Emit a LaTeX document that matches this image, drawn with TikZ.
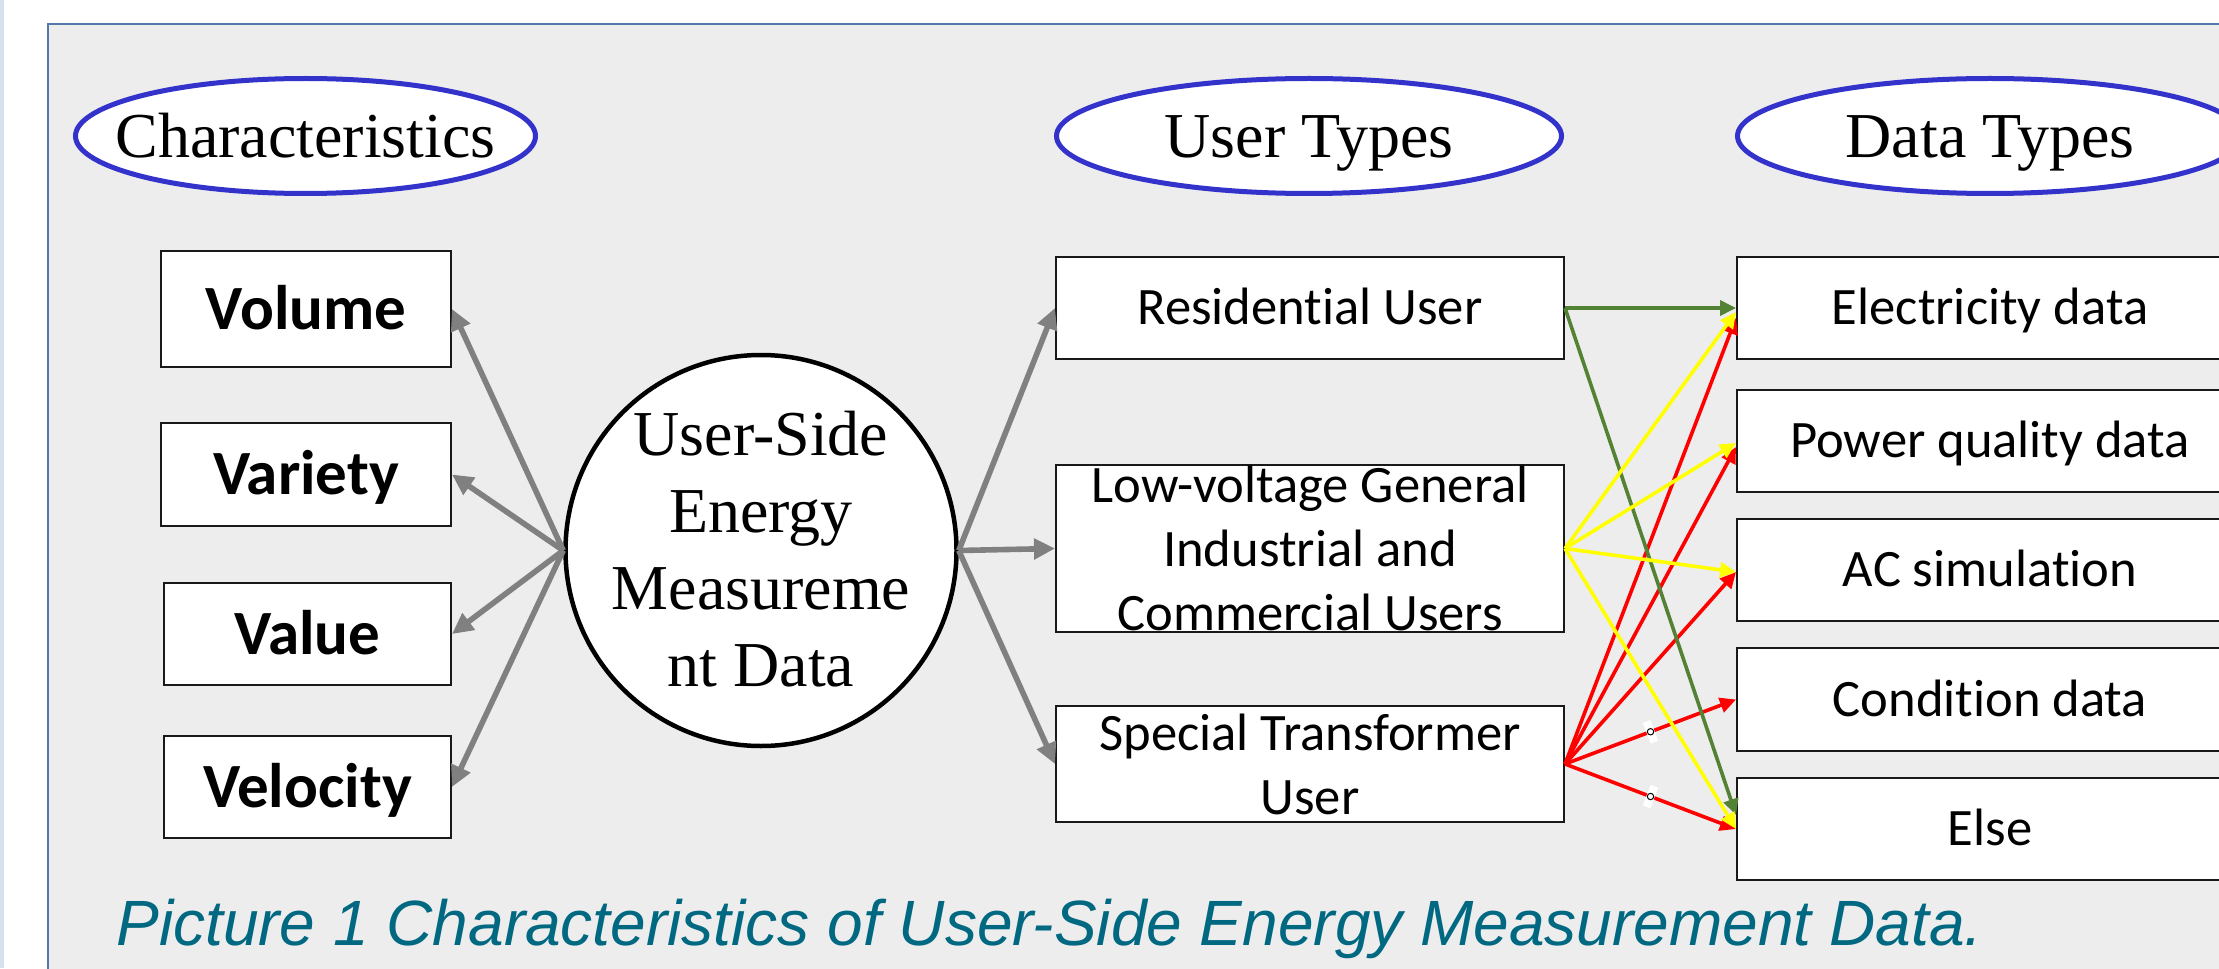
\documentclass[tikz,border=0pt]{standalone}
\usepackage{fontspec}
\setmainfont{Liberation Serif}
\newfontfamily\calibrifont[Ligatures=NoCommon, RawFeature={-calt;-clig}]{Carlito}
\newfontfamily\arialfont{Liberation Sans}
\usetikzlibrary{arrows.meta,shapes.geometric,calc}

\definecolor{panelbg}{RGB}{237,237,237}
\definecolor{panelrule}{RGB}{84,120,168}
\definecolor{edgestrip}{RGB}{214,225,237}
\definecolor{ovalblue}{RGB}{51,51,204}
\definecolor{flowgray}{RGB}{128,128,128}
\definecolor{resgreen}{RGB}{84,130,53}
\definecolor{lvyellow}{RGB}{255,255,0}
\definecolor{stred}{RGB}{255,0,0}
\definecolor{captionteal}{RGB}{0,104,128}

\begin{document}
\begin{tikzpicture}[x=0.5pt,y=-0.5pt,
  header/.style={ellipse, draw=ovalblue, line width=2.5pt, fill=white,
    inner sep=0pt, minimum height=57.5pt},
  headtext/.style={font=\fontsize{32}{38.5}\selectfont, inner sep=0pt,
    text height=21.2pt, text depth=0pt},
  coretext/.style={font=\fontsize{32}{38.5}\selectfont, align=center, inner sep=0pt},
  charbox/.style={rectangle, draw=black!90, line width=1pt, fill=white,
    inner sep=0pt, font=\calibrifont\bfseries\fontsize{31.5}{38}\selectfont,
    text height=20.3pt, text depth=0pt},
  infobox/.style={rectangle, draw=black!90, line width=1pt, fill=white,
    inner sep=0pt, align=center, font=\calibrifont\fontsize{26.3}{32}\selectfont},
  oneline/.style={text height=16.9pt, text depth=0pt},
  grayarrow/.style={draw=flowgray, line width=2.8pt,
    -{Triangle[length=10.5pt,width=10pt]}},
  flow/.style={line width=1.8pt, -{Triangle[length=8pt,width=7.5pt]}},
  jumpmark/.style={rectangle, fill=white, inner sep=0pt,
    minimum width=4pt, minimum height=11pt, sloped}
]
\useasboundingbox (0,0) rectangle (2219,968);
\clip (0,0) rectangle (2219,968);

% page and panel
\fill[white] (0,0) rectangle (2219,968);
\fill[edgestrip] (0,0) rectangle (4,968);
\draw[panelrule, line width=1pt, fill=panelbg] (48,24) rectangle (2260,1000);

% column headers
\node[header, minimum width=230pt,
  label={[headtext]center:Characteristics}] (hchar) at (305.5,136) {};
\node[header, minimum width=252.5pt,
  label={[headtext]center:User Types}] (huser) at (1309,136) {};
\node[header, minimum width=252.5pt,
  label={[headtext]center:Data Types}] (hdata) at (1990,136) {};

% characteristics
\node[charbox, minimum width=145pt, minimum height=58pt] (vol) at (306,309) {Volume};
\node[charbox, minimum width=145pt, minimum height=51.5pt] (var) at (306,474.5) {Variety};
\node[charbox, minimum width=143.5pt, minimum height=51pt] (val) at (307.5,634) {Value};
\node[charbox, minimum width=143.5pt, minimum height=51pt] (vel) at (307.5,787) {Velocity};

% central topic
\node[circle, draw=black, line width=2.25pt, fill=white, inner sep=0pt,
  minimum size=195.5pt] (core) at (761,550.5) {};
\node[coretext] (coretxt) at (761,549) {User-Side\\Energy\\Measureme\\nt Data};

% user types
\node[infobox, oneline, minimum width=254pt, minimum height=51pt] (res) at (1310,308)
  {Residential User};
\node[infobox, minimum width=254pt, minimum height=83.5pt] (lv) at (1310,548.5)
  {Low-voltage General\\Industrial and\\Commercial Users};
\node[infobox, minimum width=254pt, minimum height=58pt] (spec) at (1310,764)
  {Special Transformer\\User};

% data types
\node[infobox, oneline, minimum width=253pt, minimum height=51pt] (elec) at (1990,308)
  {Electricity data};
\node[infobox, oneline, minimum width=253pt, minimum height=51pt] (pq) at (1990,441)
  {Power quality data};
\node[infobox, oneline, minimum width=253pt, minimum height=51pt] (acs) at (1990,570)
  {AC simulation};
\node[infobox, oneline, minimum width=253pt, minimum height=51.5pt] (cond) at (1990,699.5)
  {Condition data};
\node[infobox, oneline, minimum width=253pt, minimum height=51pt] (other) at (1990,829)
  {Else};

% topic to characteristics
\draw[grayarrow] (core.west) -- (vol.east);
\draw[grayarrow] (core.west) -- (var.east);
\draw[grayarrow] (core.west) -- (val.east);
\draw[grayarrow] (core.west) -- (vel.east);

% topic to user types
\draw[grayarrow] (core.east) -- (res.west);
\draw[grayarrow] (core.east) -- (lv.west);
\draw[grayarrow] (core.east) -- (spec.west);

% special transformer users
\draw[flow, stred] (spec.east) -- ($(elec.west)+(0,10)$);
\draw[flow, stred] (spec.east) -- ($(pq.west)+(0,6)$);
\draw[flow, stred] (spec.east) -- ($(acs.west)+(0,2)$);
\draw[flow, stred] (spec.east) -- (cond.west)
  node[jumpmark, pos=0.5] (jm1) {};
\draw[flow, stred] (spec.east) -- (other.west)
  node[jumpmark, pos=0.5] (jm2) {};
\draw[line width=0.5pt] (jm1.center) circle (1.6pt);
\draw[line width=0.5pt] (jm2.center) circle (1.6pt);

% residential users
\draw[flow, resgreen] (res.east) -- (elec.west);
\draw[flow, resgreen] (res.east) -- ($(other.west)+(0,-14)$);

% low-voltage general users
\draw[flow, lvyellow] (lv.east) -- ($(elec.west)+(0,4)$);
\draw[flow, lvyellow] (lv.east) -- ($(pq.west)+(0,2)$);
\draw[flow, lvyellow] (lv.east) -- ($(acs.west)+(0,2)$);
\draw[flow, lvyellow] (lv.east) -- (other.west);

% caption
\node[anchor=base west, inner sep=0pt, text=captionteal,
  font=\arialfont\itshape\fontsize{32}{38}\selectfont] (caption) at (116,945)
  {Picture 1 Characteristics of User-Side Energy Measurement Data.};
\end{tikzpicture}
\end{document}
